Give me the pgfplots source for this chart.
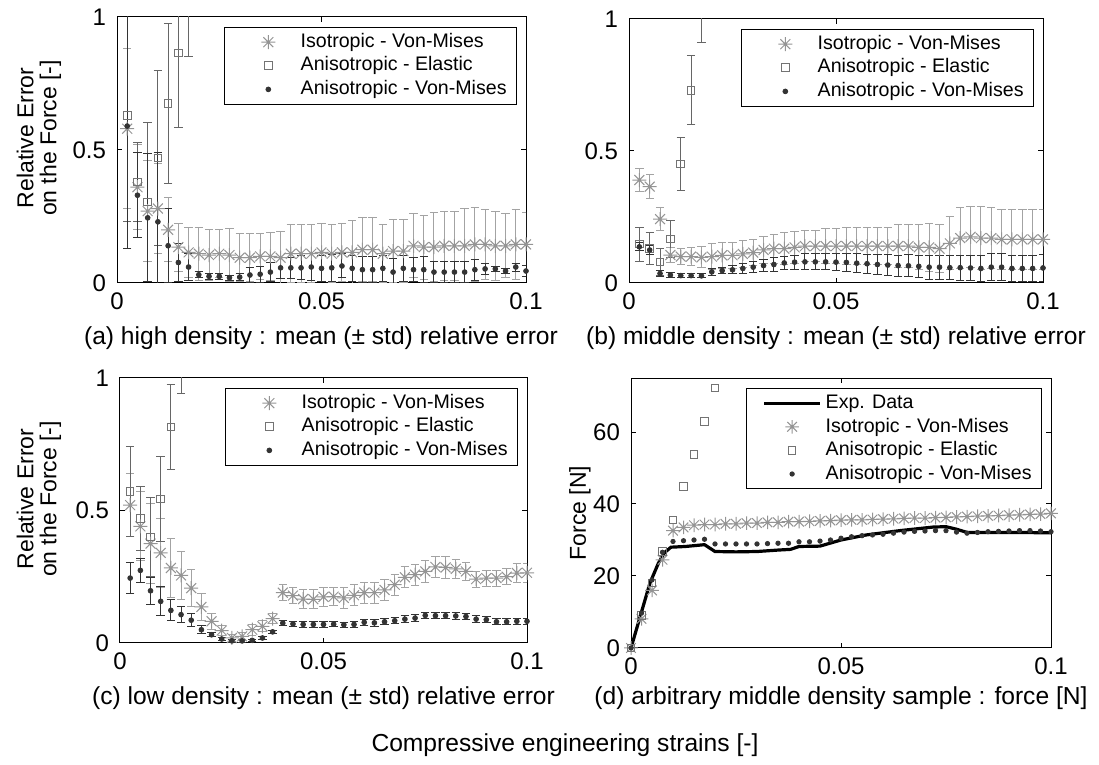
\documentclass[border=0pt]{standalone}
\usepackage{fontspec}
\setmainfont{Liberation Sans}
\usepackage{pgfplots}
\pgfplotsset{compat=1.18}

\definecolor{isoc}{gray}{0.58}
\definecolor{isoerr}{gray}{0.64}
\definecolor{elac}{gray}{0.45}
\definecolor{elaerr}{gray}{0.4}
\definecolor{anic}{gray}{0.2}

% MATLAB-like eight-arm asterisk
\pgfdeclareplotmark{mstar}{%
  \pgfpathmoveto{\pgfqpoint{0pt}{\pgfplotmarksize}}\pgfpathlineto{\pgfqpoint{0pt}{-\pgfplotmarksize}}%
  \pgfpathmoveto{\pgfqpoint{\pgfplotmarksize}{0pt}}\pgfpathlineto{\pgfqpoint{-\pgfplotmarksize}{0pt}}%
  \pgfpathmoveto{\pgfqpoint{.7071\pgfplotmarksize}{.7071\pgfplotmarksize}}\pgfpathlineto{\pgfqpoint{-.7071\pgfplotmarksize}{-.7071\pgfplotmarksize}}%
  \pgfpathmoveto{\pgfqpoint{.7071\pgfplotmarksize}{-.7071\pgfplotmarksize}}\pgfpathlineto{\pgfqpoint{-.7071\pgfplotmarksize}{.7071\pgfplotmarksize}}%
  \pgfusepathqstroke}

\pgfplotsset{
  legimg/.style={legend image code/.code={%
    \path (-5pt,0pt) (28pt,0pt);
    \draw[mark repeat=2,mark phase=2,##1] plot coordinates {(0pt,0pt)(14pt,0pt)(28pt,0pt)};}},
  mpanel/.style={
    scale only axis,
    xmin=0, xmax=0.1,
    xtick={0,0.05,0.1}, xticklabels={0,0.05,0.1},
    tick align=inside, major tick length=2.5pt,
    tick style={black, line width=0.5pt},
    axis line style={black, line width=0.5pt},
    ticklabel style={font=\fontsize{12}{14}\selectfont},
    xticklabel style={yshift=-1.5pt},
    yticklabel style={xshift=-2pt},
    legend cell align=left,
    legend style={at={(1,1)}, anchor=north east, xshift=-4.5pt, yshift=-5pt,
      draw=black, fill=white, font=\fontsize{9.8}{11}\selectfont,
      inner xsep=3pt, inner ysep=1.5pt, row sep=0pt,
      nodes={inner ysep=1.3pt, text height=7.2pt, text depth=2pt}},
    legimg,
  },
  relpanel/.style={mpanel, ymin=0, ymax=1, ytick={0,0.5,1}, yticklabels={0,0.5,1}},
  isomk/.style={only marks, mark=mstar, mark size=3.5pt, color=isoc, mark options={line width=0.5pt}, legimg},
  elamk/.style={only marks, mark=square, mark size=1.9pt, color=elac, mark options={line width=0.5pt}, legimg},
  animk/.style={only marks, mark=*, mark size=1.2pt, color=anic, legimg},
  isoerrb/.style={error bars/.cd, y dir=both, y explicit,
    error bar style={isoerr, line width=0.5pt},
    error mark options={isoerr, rotate=90, mark size=2.1pt, line width=0.5pt}},
  elaerrb/.style={error bars/.cd, y dir=both, y explicit,
    error bar style={elaerr, line width=0.5pt},
    error mark options={elaerr, rotate=90, mark size=2.1pt, line width=0.5pt}},
  anierrb/.style={error bars/.cd, y dir=both, y explicit,
    error bar style={anic, line width=0.5pt},
    error mark options={anic, rotate=90, mark size=2.1pt, line width=0.5pt}},
}

\begin{document}
\begin{tikzpicture}
\useasboundingbox (0,0) rectangle (549.5pt,382.5pt);

% ---------------- (a) high density ----------------
\begin{axis}[relpanel, at={(58.5pt,241pt)}, anchor=south west, width=204.5pt, height=133pt]
\addplot[isomk, isoerrb] table[x=x, y=y, y error=e, row sep=\\] {
x y e\\
0.0025 0.58 0.30\\ 0.005 0.36 0.16\\ 0.0075 0.27 0.19\\ 0.01 0.28 0.17\\ 0.0125 0.20 0.12\\
0.015 0.135 0.09\\ 0.0175 0.115 0.095\\ 0.02 0.11 0.10\\ 0.0225 0.105 0.095\\ 0.025 0.11 0.09\\
0.0275 0.105 0.10\\ 0.03 0.095 0.09\\ 0.0325 0.095 0.09\\ 0.035 0.10 0.085\\ 0.0375 0.10 0.09\\
0.04 0.095 0.10\\ 0.0425 0.11 0.11\\ 0.045 0.11 0.11\\ 0.0475 0.11 0.11\\ 0.05 0.115 0.11\\
0.0525 0.11 0.11\\ 0.055 0.115 0.11\\ 0.0575 0.115 0.12\\ 0.06 0.125 0.12\\ 0.0625 0.125 0.12\\
0.065 0.11 0.11\\ 0.0675 0.12 0.12\\ 0.07 0.12 0.12\\ 0.0725 0.14 0.12\\ 0.075 0.135 0.12\\
0.0775 0.135 0.13\\ 0.08 0.14 0.13\\ 0.0825 0.14 0.13\\ 0.085 0.14 0.14\\ 0.0875 0.145 0.14\\
0.09 0.145 0.13\\ 0.0925 0.14 0.13\\ 0.095 0.14 0.12\\ 0.0975 0.145 0.13\\ 0.1 0.145 0.12\\
};
\addlegendentry{Isotropic - Von-Mises}
\addplot[elamk, elaerrb] table[x=x, y=y, y error=e, row sep=\\] {
x y e\\
0.0025 0.63 0.40\\ 0.005 0.38 0.15\\ 0.0075 0.305 0.30\\ 0.01 0.47 0.33\\ 0.0125 0.675 0.30\\
0.015 0.865 0.28\\ 0.0175 1.15 0.30\\
};
\addlegendentry{Anisotropic - Elastic}
\addplot[animk, anierrb] table[x=x, y=y, y error=e, row sep=\\] {
x y e\\
0.0025 0.59 0.46\\ 0.005 0.33 0.16\\ 0.0075 0.245 0.24\\ 0.01 0.23 0.26\\ 0.0125 0.14 0.14\\
0.015 0.077 0.07\\ 0.0175 0.06 0.05\\ 0.02 0.031 0.012\\ 0.0225 0.025 0.012\\ 0.025 0.025 0.01\\
0.0275 0.02 0.01\\ 0.03 0.022 0.012\\ 0.0325 0.03 0.03\\ 0.035 0.033 0.03\\ 0.0375 0.041 0.035\\
0.04 0.057 0.04\\ 0.0425 0.057 0.04\\ 0.045 0.057 0.045\\ 0.0475 0.06 0.05\\ 0.05 0.055 0.05\\
0.0525 0.057 0.05\\ 0.055 0.064 0.045\\ 0.0575 0.055 0.05\\ 0.06 0.05 0.05\\ 0.0625 0.05 0.05\\
0.065 0.055 0.05\\ 0.0675 0.041 0.05\\ 0.07 0.055 0.05\\ 0.0725 0.05 0.045\\ 0.075 0.05 0.05\\
0.0775 0.041 0.04\\ 0.08 0.041 0.04\\ 0.0825 0.041 0.04\\ 0.085 0.041 0.04\\ 0.0875 0.05 0.04\\
0.09 0.053 0.02\\ 0.0925 0.053 0.01\\ 0.095 0.045 0.01\\ 0.0975 0.06 0.015\\ 0.1 0.045 0.02\\
};
\addlegendentry{Anisotropic - Von-Mises}
\end{axis}

% ---------------- (b) middle density ----------------
\begin{axis}[relpanel, at={(314.5pt,241pt)}, anchor=south west, width=207pt, height=132pt]
\addplot[isomk, isoerrb] table[x=x, y=y, y error=e, row sep=\\] {
x y e\\
0.0025 0.39 0.045\\ 0.005 0.365 0.045\\ 0.0075 0.242 0.045\\ 0.01 0.106 0.03\\ 0.0125 0.10 0.03\\
0.015 0.10 0.035\\ 0.0175 0.097 0.04\\ 0.02 0.10 0.05\\ 0.0225 0.105 0.05\\ 0.025 0.105 0.05\\
0.0275 0.11 0.05\\ 0.03 0.115 0.05\\ 0.0325 0.125 0.05\\ 0.035 0.13 0.055\\ 0.0375 0.13 0.06\\
0.04 0.135 0.06\\ 0.0425 0.14 0.06\\ 0.045 0.14 0.06\\ 0.0475 0.14 0.065\\ 0.05 0.14 0.065\\
0.0525 0.14 0.07\\ 0.055 0.14 0.07\\ 0.0575 0.14 0.07\\ 0.06 0.14 0.07\\ 0.0625 0.14 0.07\\
0.065 0.14 0.08\\ 0.0675 0.14 0.08\\ 0.07 0.135 0.085\\ 0.0725 0.135 0.09\\ 0.075 0.13 0.09\\
0.0775 0.15 0.10\\ 0.08 0.17 0.115\\ 0.0825 0.175 0.115\\ 0.085 0.17 0.12\\ 0.0875 0.17 0.115\\
0.09 0.165 0.115\\ 0.0925 0.165 0.115\\ 0.095 0.165 0.115\\ 0.0975 0.165 0.115\\ 0.1 0.165 0.115\\
};
\addlegendentry{Isotropic - Von-Mises}
\addplot[elamk, elaerrb] table[x=x, y=y, y error=e, row sep=\\] {
x y e\\
0.0025 0.147 0.065\\ 0.005 0.13 0.06\\ 0.0075 0.08 0.05\\ 0.01 0.167 0.07\\ 0.0125 0.45 0.10\\
0.015 0.73 0.13\\ 0.0175 1.05 0.14\\
};
\addlegendentry{Anisotropic - Elastic}
\addplot[animk, anierrb] table[x=x, y=y, y error=e, row sep=\\] {
x y e\\
0.0025 0.137 0.015\\ 0.005 0.125 0.018\\ 0.0075 0.036 0.012\\ 0.01 0.03 0.008\\ 0.0125 0.028 0.008\\
0.015 0.028 0.008\\ 0.0175 0.027 0.008\\ 0.02 0.042 0.012\\ 0.0225 0.047 0.012\\ 0.025 0.05 0.015\\
0.0275 0.055 0.018\\ 0.03 0.06 0.02\\ 0.0325 0.066 0.022\\ 0.035 0.07 0.025\\ 0.0375 0.076 0.025\\
0.04 0.079 0.027\\ 0.0425 0.08 0.03\\ 0.045 0.08 0.03\\ 0.0475 0.08 0.03\\ 0.05 0.079 0.032\\
0.0525 0.078 0.034\\ 0.055 0.075 0.035\\ 0.0575 0.073 0.036\\ 0.06 0.07 0.038\\ 0.0625 0.068 0.04\\
0.065 0.066 0.04\\ 0.0675 0.065 0.042\\ 0.07 0.063 0.043\\ 0.0725 0.06 0.045\\ 0.075 0.06 0.045\\
0.0775 0.058 0.046\\ 0.08 0.058 0.047\\ 0.0825 0.057 0.048\\ 0.085 0.055 0.05\\ 0.0875 0.06 0.05\\
0.09 0.06 0.05\\ 0.0925 0.055 0.05\\ 0.095 0.055 0.05\\ 0.0975 0.055 0.05\\ 0.1 0.057 0.05\\
};
\addlegendentry{Anisotropic - Von-Mises}
\end{axis}

% ---------------- (c) low density ----------------
\begin{axis}[relpanel, at={(60pt,61pt)}, anchor=south west, width=203.5pt, height=132.5pt]
\addplot[isomk, isoerrb] table[x=x, y=y, y error=e, row sep=\\] {
x y e\\
0.0025 0.52 0.12\\ 0.005 0.44 0.13\\ 0.0075 0.375 0.15\\ 0.01 0.34 0.13\\ 0.0125 0.283 0.11\\
0.015 0.255 0.09\\ 0.0175 0.207 0.07\\ 0.02 0.136 0.05\\ 0.0225 0.082 0.03\\ 0.025 0.047 0.02\\
0.0275 0.019 0.012\\ 0.03 0.025 0.015\\ 0.0325 0.05 0.02\\ 0.035 0.063 0.02\\ 0.0375 0.092 0.02\\
0.04 0.19 0.03\\ 0.0425 0.179 0.03\\ 0.045 0.166 0.035\\ 0.0475 0.165 0.035\\ 0.05 0.174 0.035\\
0.0525 0.175 0.035\\ 0.055 0.17 0.04\\ 0.0575 0.18 0.04\\ 0.06 0.19 0.04\\ 0.0625 0.19 0.04\\
0.065 0.20 0.04\\ 0.0675 0.22 0.04\\ 0.07 0.248 0.04\\ 0.0725 0.258 0.04\\ 0.075 0.27 0.04\\
0.0775 0.287 0.04\\ 0.08 0.285 0.04\\ 0.0825 0.28 0.035\\ 0.085 0.27 0.035\\ 0.0875 0.241 0.03\\
0.09 0.245 0.03\\ 0.0925 0.245 0.03\\ 0.095 0.25 0.03\\ 0.0975 0.264 0.035\\ 0.1 0.265 0.035\\
};
\addlegendentry{Isotropic - Von-Mises}
\addplot[elamk, elaerrb] table[x=x, y=y, y error=e, row sep=\\] {
x y e\\
0.0025 0.572 0.17\\ 0.005 0.47 0.12\\ 0.0075 0.40 0.15\\ 0.01 0.543 0.16\\ 0.0125 0.815 0.16\\
0.015 1.10 0.16\\
};
\addlegendentry{Anisotropic - Elastic}
\addplot[animk, anierrb] table[x=x, y=y, y error=e, row sep=\\] {
x y e\\
0.0025 0.245 0.06\\ 0.005 0.274 0.045\\ 0.0075 0.197 0.05\\ 0.01 0.157 0.055\\ 0.0125 0.123 0.04\\
0.015 0.107 0.03\\ 0.0175 0.086 0.025\\ 0.02 0.05 0.015\\ 0.0225 0.031 0.008\\ 0.025 0.015 0.006\\
0.0275 0.008 0.005\\ 0.03 0.008 0.005\\ 0.0325 0.01 0.005\\ 0.035 0.019 0.006\\ 0.0375 0.042 0.006\\
0.04 0.075 0.01\\ 0.0425 0.072 0.01\\ 0.045 0.07 0.01\\ 0.0475 0.07 0.01\\ 0.05 0.07 0.01\\
0.0525 0.071 0.01\\ 0.055 0.069 0.01\\ 0.0575 0.07 0.01\\ 0.06 0.078 0.012\\ 0.0625 0.076 0.012\\
0.065 0.08 0.012\\ 0.0675 0.084 0.012\\ 0.07 0.09 0.012\\ 0.0725 0.094 0.012\\ 0.075 0.104 0.012\\
0.0775 0.103 0.012\\ 0.08 0.103 0.012\\ 0.0825 0.102 0.012\\ 0.085 0.1 0.012\\ 0.0875 0.09 0.012\\
0.09 0.088 0.012\\ 0.0925 0.08 0.012\\ 0.095 0.08 0.012\\ 0.0975 0.082 0.012\\ 0.1 0.082 0.012\\
};
\addlegendentry{Anisotropic - Von-Mises}
\end{axis}

% ---------------- (d) force ----------------
\begin{axis}[mpanel, at={(315.5pt,58.5pt)}, anchor=south west, width=210pt, height=135pt,
  ymin=0, ymax=75, ytick={0,20,40,60}, yticklabels={0,20,40,60}]
\addplot[black, line width=1.6pt] coordinates {
(0,0)(0.0025,10)(0.0045,18)(0.0065,23.5)(0.008,26.5)(0.0095,28)(0.013,28.2)(0.0175,28.7)
(0.02,26.8)(0.025,26.7)(0.03,26.8)(0.035,27.2)(0.038,27.4)(0.04,28.2)(0.045,28.3)(0.05,30)
(0.056,31.4)(0.064,32.6)(0.072,33.6)(0.075,33.7)(0.0775,33)(0.08,32.1)(0.09,32.1)(0.1,32)
};
\addlegendentry{Exp. Data}
\addplot[isomk, mark size=3.4pt] coordinates {
(0,0)(0.0025,8.1)(0.005,16)(0.0075,24.5)(0.01,32.6)(0.0125,33.5)(0.015,34.1)(0.0175,34.3)
(0.02,34.3)(0.0225,34.5)(0.025,34.5)(0.0275,34.7)(0.03,34.7)(0.0325,34.9)(0.035,34.9)
(0.0375,35.1)(0.04,35.1)(0.0425,35.2)(0.045,35.3)(0.0475,35.4)(0.05,35.5)(0.0525,35.6)
(0.055,35.6)(0.0575,35.7)(0.06,35.8)(0.0625,35.9)(0.065,36)(0.0675,36.1)(0.07,36.1)
(0.0725,36.2)(0.075,36.3)(0.0775,36.4)(0.08,36.5)(0.0825,36.6)(0.085,36.7)(0.0875,36.8)
(0.09,36.9)(0.0925,37)(0.095,37.1)(0.0975,37.2)(0.1,37.4)
};
\addlegendentry{Isotropic - Von-Mises}
\addplot[elamk] coordinates {
(0,0)(0.0025,9)(0.005,18)(0.0075,26.8)(0.01,35.5)(0.0125,44.8)(0.015,53.7)(0.0175,63)(0.02,72.2)
};
\addlegendentry{Anisotropic - Elastic}
\addplot[animk, mark size=1.1pt] coordinates {
(0,0)(0.0025,9.7)(0.005,18.9)(0.0075,26.6)(0.01,29.6)(0.0125,29.8)(0.015,30)(0.0175,30.2)
(0.02,28.9)(0.0225,28.9)(0.025,28.9)(0.0275,28.9)(0.03,28.9)(0.0325,29)(0.035,29.1)
(0.0375,29.1)(0.04,29.5)(0.0425,29.5)(0.045,29.7)(0.0475,30)(0.05,30.5)(0.0525,30.9)
(0.055,31.2)(0.0575,31.4)(0.06,31.6)(0.0625,31.9)(0.065,32.2)(0.0675,32.4)(0.07,32.5)
(0.0725,32.6)(0.075,32.6)(0.0775,32.2)(0.08,31.9)(0.0825,32.1)(0.085,32.3)(0.0875,32.4)
(0.09,32.5)(0.0925,32.6)(0.095,32.6)(0.0975,32.5)(0.1,32.3)
};
\addlegendentry{Anisotropic - Von-Mises}
\end{axis}

% ---------------- labels and captions ----------------
\node[font=\fontsize{12.3}{14}\selectfont] at (160.5pt,213.5pt) {(a) high density : mean (± std) relative error};
\node[font=\fontsize{12.3}{14}\selectfont] at (418pt,213.5pt) {(b) middle density : mean (± std) relative error};
\node[font=\fontsize{12.3}{14}\selectfont] at (161.75pt,33.5pt) {(c) low density : mean (± std) relative error};
\node[font=\fontsize{12.3}{14}\selectfont] at (420.5pt,33.5pt) {(d) arbitrary middle density sample : force [N]};
\node[font=\fontsize{12.3}{14}\selectfont] at (282.5pt,10pt) {Compressive engineering strains [-]};
\node[rotate=90, align=center, font=\fontsize{11.5}{11.5}\selectfont] at (19.5pt,313.5pt) {Relative Error\\on the Force [-]};
\node[rotate=90, align=center, font=\fontsize{11.5}{11.5}\selectfont] at (19.5pt,133pt) {Relative Error\\on the Force [-]};
\node[rotate=90, font=\fontsize{11.5}{13}\selectfont] at (290pt,126pt) {Force [N]};
\end{tikzpicture}
\end{document}
